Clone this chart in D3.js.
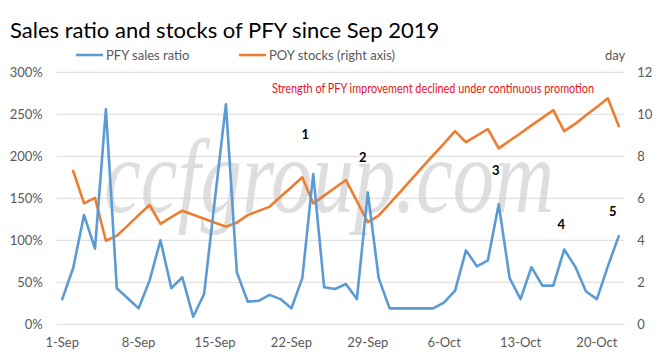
<!DOCTYPE html>
<html>
<head>
<meta charset="utf-8">
<script src="https://cdn.jsdelivr.net/npm/d3@7"></script>
<style>
  html, body { margin: 0; padding: 0; background: #fff; }
  svg { display: block; }
  text { font-family: Lato, "Open Sans", sans-serif; }
</style>
</head>
<body>
<svg id="chart" width="667" height="364"></svg>
<script>
// ---------------- data ----------------
const dates = [
  "2019-09-01","2019-09-02","2019-09-03","2019-09-04","2019-09-05","2019-09-06","2019-09-07",
  "2019-09-08","2019-09-09","2019-09-10","2019-09-11","2019-09-12","2019-09-13","2019-09-14",
  "2019-09-15","2019-09-16","2019-09-17","2019-09-18","2019-09-19","2019-09-20","2019-09-21",
  "2019-09-22","2019-09-23","2019-09-24","2019-09-25","2019-09-26","2019-09-27","2019-09-28",
  "2019-09-29","2019-09-30","2019-10-01","2019-10-02","2019-10-03","2019-10-04","2019-10-05",
  "2019-10-06","2019-10-07","2019-10-08","2019-10-09","2019-10-10","2019-10-11","2019-10-12",
  "2019-10-13","2019-10-14","2019-10-15","2019-10-16","2019-10-17","2019-10-18","2019-10-19",
  "2019-10-20","2019-10-21","2019-10-22"
];
// PFY sales ratio (%) – left axis
const pfySalesRatio = [
  30, 67, 130, 90, 256, 43, 31,
  19, 52, 100, 43, 56, 9, 36,
  150, 262, 62, 27, 28, 35, 30,
  19, 55, 179, 44, 42, 48, 30,
  157, 55, 19, 19, 19, 19, 19,
  26, 40, 88, 69, 76, 143, 55,
  30, 68, 46, 46, 89, 69, 39,
  30, 69, 105
];
// POY stocks (days) – right axis
const poyStocks = [
  null, 7.30, 5.76, 6.02, 3.98, 4.22, 4.70,
  5.20, 5.68, 4.78, 5.10, 5.41, 5.22, 5.03,
  4.84, 4.65, 4.84, 5.20, 5.40, 5.60, 6.07,
  6.53, 7.00, 5.76, 6.13, 6.50, 6.87, 5.87,
  4.87, 5.17, 5.75, 6.32, 6.90, 7.48, 8.05,
  8.62, 9.20, 8.67, 8.98, 9.30, 8.38, 8.74,
  9.10, 9.47, 9.83, 10.20, 9.20, 9.54, 9.95,
  10.35, 10.76, 9.44
];
const xTickLabels = ["1-Sep","8-Sep","15-Sep","22-Sep","29-Sep","6-Oct","13-Oct","20-Oct"];
const xTickDates = ["2019-09-01","2019-09-08","2019-09-15","2019-09-22","2019-09-29","2019-10-06","2019-10-13","2019-10-20"];
const leftTicks = [0, 50, 100, 150, 200, 250, 300];
const rightTicks = [0, 2, 4, 6, 8, 10, 12];
const seriesNames = ["PFY sales ratio", "POY stocks (right axis)"];
const titleText = "Sales ratio and stocks of PFY since Sep 2019";
const noteText = "Strength of PFY improvement declined under continuous promotion";
const markerLabels = ["1","2","3","4","5"];
const markerDates = ["2019-09-23","2019-09-28","2019-10-11","2019-10-17","2019-10-21"];
const markerValues = [221, 193, 178, 114, 129]; // anchor level on the left axis (%)

// ---------------- layout ----------------
const svg = d3.select("#chart");
const plot = { left: 56.8, right: 624.2, top: 72.3, bottom: 324.3 };
const BLUE = "#5B9BD5", ORANGE = "#ED7D31", GRID = "#D9D9D9", LABEL = "#595959";
const markerDx = [3, 6, -3, -3, 5];

const x = d3.scaleBand().domain(dates).range([plot.left, plot.right]).padding(0);
const xc = d => x(d) + x.bandwidth() / 2;
const yL = d3.scaleLinear().domain([0, 300]).range([plot.bottom, plot.top]);
const yR = d3.scaleLinear().domain([0, 12]).range([plot.bottom, plot.top]);

// gridlines
svg.append("g").selectAll("line").data(leftTicks).join("line")
  .attr("x1", plot.left).attr("x2", plot.right)
  .attr("y1", d => yL(d)).attr("y2", d => yL(d))
  .attr("stroke", GRID).attr("stroke-width", 1);

// watermark
svg.append("text")
  .attr("x", 104).attr("y", 212)
  .attr("textLength", 450).attr("lengthAdjust", "spacingAndGlyphs")
  .style("font-family", "'Liberation Serif', 'DejaVu Serif', serif")
  .style("font-style", "italic").style("font-size", "106px")
  .attr("fill", "#d4d4d4").attr("opacity", 0.75)
  .text("ccfgroup.com");

// left axis
const axL = svg.append("g").attr("transform", `translate(${plot.left - 2},0)`)
  .call(d3.axisLeft(yL).tickValues(leftTicks).tickFormat(d => d + "%").tickSize(0).tickPadding(12));
axL.select(".domain").remove();
axL.selectAll("text").attr("fill", LABEL).style("font-size", "13px").style("font-family", "Lato, sans-serif");

// right axis
const axR = svg.append("g").attr("transform", `translate(${plot.right},0)`)
  .call(d3.axisRight(yR).tickValues(rightTicks).tickSize(0).tickPadding(13));
axR.select(".domain").remove();
axR.selectAll("text").attr("fill", LABEL).style("font-size", "13px").style("font-family", "Lato, sans-serif");

// bottom axis
const xAxis = d3.axisBottom(x).tickValues(xTickDates)
  .tickFormat((d, i) => xTickLabels[i]).tickSize(0).tickPadding(13);
const axB = svg.append("g").attr("transform", `translate(0,${plot.bottom})`).call(xAxis);
axB.select(".domain").remove();
axB.selectAll("text").attr("fill", LABEL).style("font-size", "13px").style("font-family", "Lato, sans-serif");

// lines
const lineL = d3.line().defined(d => d.v != null).x(d => xc(d.d)).y(d => yL(d.v));
const lineR = d3.line().defined(d => d.v != null).x(d => xc(d.d)).y(d => yR(d.v));

svg.append("path")
  .datum(dates.map((d, i) => ({ d, v: poyStocks[i] })))
  .attr("d", lineR).attr("fill", "none").attr("stroke", ORANGE)
  .attr("stroke-width", 2.6).attr("stroke-linejoin", "round").attr("stroke-linecap", "round");

svg.append("path")
  .datum(dates.map((d, i) => ({ d, v: pfySalesRatio[i] })))
  .attr("d", lineL).attr("fill", "none").attr("stroke", BLUE)
  .attr("stroke-width", 2.6).attr("stroke-linejoin", "round").attr("stroke-linecap", "round");

// title
svg.append("text").attr("x", 10).attr("y", 38)
  .style("font-size", "22px").attr("fill", "#000").text(titleText);

// legend
const legend = svg.append("g");
const legendItems = [
  { name: seriesNames[0], color: BLUE, x: 76 },
  { name: seriesNames[1], color: ORANGE, x: 239 }
];
legendItems.forEach(it => {
  legend.append("line").attr("x1", it.x).attr("x2", it.x + 27)
    .attr("y1", 55).attr("y2", 55).attr("stroke", it.color).attr("stroke-width", 2.6);
  legend.append("text").attr("x", it.x + 30).attr("y", 59.5)
    .style("font-size", "13px").attr("fill", LABEL).text(it.name);
});
svg.append("text").attr("x", 605).attr("y", 59.5)
  .style("font-size", "13px").attr("fill", LABEL).text("day");

// red note
svg.append("text").attr("x", 272).attr("y", 93)
  .attr("textLength", 322).attr("lengthAdjust", "spacingAndGlyphs")
  .style("font-size", "13.5px").attr("fill", "#E8141C").text(noteText);

// numbered markers
svg.append("g").selectAll("text").data(markerLabels).join("text")
  .attr("x", (d, i) => xc(markerDates[i]) + markerDx[i])
  .attr("y", (d, i) => yL(markerValues[i]))
  .attr("text-anchor", "middle")
  .style("font-size", "13px").style("font-weight", "bold").attr("fill", "#000")
  .text(d => d);
</script>
</body>
</html>
